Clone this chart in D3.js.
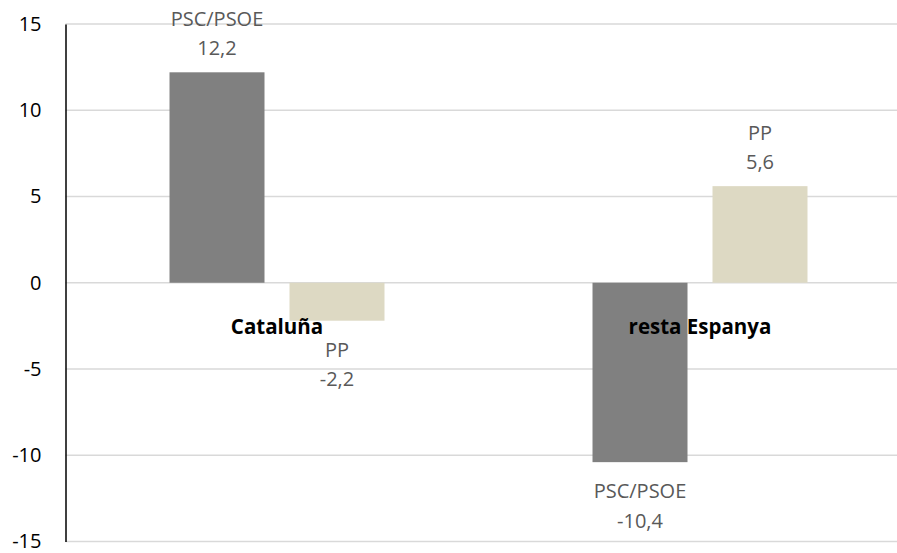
<!DOCTYPE html>
<html>
<head>
<meta charset="utf-8">
<script src="https://cdn.jsdelivr.net/npm/d3@7"></script>
<style>
  html, body { margin: 0; padding: 0; background: #fff; }
  svg { display: block; }
  text { font-family: "Open Sans", "Noto Sans", sans-serif; }
</style>
</head>
<body>
<svg id="chart" width="897" height="553"></svg>
<script>
const categories = ["Cataluña", "resta Espanya"];
const seriesNames = ["PSC/PSOE", "PP"];
const pscValues = [12.2, -10.4];
const ppValues = [-2.2, 5.6];
const yTicks = [-15, -10, -5, 0, 5, 10, 15];
const seriesColors = ["#808080", "#ddd9c3"];

const formatVal = v => String(v).replace(".", ",");

const svg = d3.select("#chart");
const plotLeft = 65.5, plotTop = 24, plotBottom = 541.5, plotW = 846;

const y = d3.scaleLinear().domain([-15, 15]).range([plotBottom, plotTop]);
const x0 = d3.scaleBand().domain(categories).range([plotLeft, plotLeft + plotW]).padding(0);
const x1 = d3.scaleBand().domain(seriesNames).range([0, x0.bandwidth()])
  .paddingInner(25 / 120).paddingOuter(0.8667);

// gridlines
svg.append("g").selectAll("line").data(yTicks).join("line")
  .attr("x1", plotLeft).attr("x2", 897)
  .attr("y1", d => y(d)).attr("y2", d => y(d))
  .attr("stroke", "#d9d9d9").attr("stroke-width", 1.5);

// y axis via d3.axisLeft
const yAxis = d3.axisLeft(y).tickValues(yTicks).tickSize(0).tickPadding(24).tickFormat(d => d);
const gy = svg.append("g").attr("transform", `translate(${plotLeft},0)`).call(yAxis);
gy.select(".domain").attr("stroke", "#000").attr("stroke-width", 1.5);
gy.selectAll("text").attr("font-size", 20).attr("fill", "#000")
  .attr("font-family", "'Open Sans', sans-serif");

// bars
const data = [];
categories.forEach((c, i) => {
  data.push({cat: c, s: seriesNames[0], v: pscValues[i], color: seriesColors[0]});
  data.push({cat: c, s: seriesNames[1], v: ppValues[i], color: seriesColors[1]});
});

svg.append("g").selectAll("rect").data(data).join("rect")
  .attr("x", d => x0(d.cat) + x1(d.s))
  .attr("width", x1.bandwidth())
  .attr("y", d => y(Math.max(0, d.v)))
  .attr("height", d => Math.abs(y(d.v) - y(0)))
  .attr("fill", d => d.color);

// category labels
svg.append("g").selectAll("text").data(categories).join("text")
  .attr("x", d => x0(d) + x0.bandwidth() / 2)
  .attr("y", 326)
  .attr("text-anchor", "middle")
  .attr("dominant-baseline", "central")
  .attr("font-size", 20.5).attr("font-weight", "bold").attr("fill", "#000")
  .text(d => d);

// data labels
const lg = svg.append("g");
data.forEach(d => {
  const cx = x0(d.cat) + x1(d.s) + x1.bandwidth() / 2;
  let y1, y2;
  if (d.v >= 0) { y2 = y(d.v) - 25; y1 = y2 - 28.5; }
  else { y1 = y(d.v) + 28.5; y2 = y1 + 29.5; }
  lg.append("text").attr("x", cx).attr("y", y1)
    .attr("text-anchor", "middle").attr("dominant-baseline", "central")
    .attr("font-size", 20).attr("fill", "#595959").text(d.s);
  lg.append("text").attr("x", cx).attr("y", y2)
    .attr("text-anchor", "middle").attr("dominant-baseline", "central")
    .attr("font-size", 20).attr("fill", "#595959").text(formatVal(d.v));
});
</script>
</body>
</html>
